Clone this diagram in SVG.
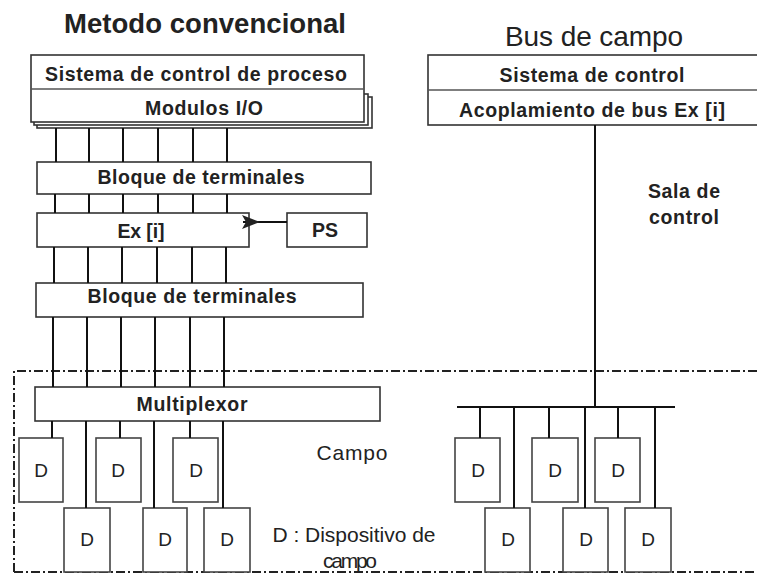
<svg xmlns="http://www.w3.org/2000/svg" width="757" height="575" viewBox="0 0 757 575">
<defs>
<marker id="ah" markerWidth="18" markerHeight="14" refX="17" refY="7" orient="auto" markerUnits="userSpaceOnUse" viewBox="0 0 18 14">
<path d="M0,7 L18,0 L14,7 L18,14 Z" fill="#222"/>
</marker>
<style>
.box{fill:#fff;stroke:#333;stroke-width:1.6}
.dbox{fill:#fff;stroke:#444;stroke-width:1.6}
.lbl{font-family:"Liberation Sans",Arial,sans-serif;font-weight:bold;font-size:19.5px;fill:#222;text-anchor:middle}
.dl{font-family:"Liberation Sans",Arial,sans-serif;font-size:19px;fill:#222;text-anchor:middle}
.txt{font-family:"Liberation Sans",Arial,sans-serif;font-size:21px;fill:#222;text-anchor:middle}
.ln{stroke:#111;stroke-width:2;fill:none}
.dash{stroke:#222;stroke-width:2;fill:none;stroke-dasharray:9 3 2 3}
</style>
</defs>
<rect width="757" height="575" fill="#fff"/>

<text x="205" y="33" font-family="Liberation Sans,Arial,sans-serif" font-weight="bold" font-size="27.5" fill="#222" text-anchor="middle" textLength="282">Metodo convencional</text>
<text x="594" y="46" font-family="Liberation Sans,Arial,sans-serif" font-size="28" fill="#222" text-anchor="middle" textLength="178">Bus de campo</text>

<g id="zona-campo">
<path class="dash" d="M14,572V371H757 M14,572H757"/>
</g>

<g id="sistema-control-proceso">
<rect class="box" x="37" y="97" width="335" height="31"/>
<rect class="box" x="34" y="94" width="334" height="31"/>
<rect class="box" x="31" y="55" width="333" height="67"/>
<line x1="31" y1="89" x2="364" y2="89" stroke="#555" stroke-width="1.6"/>
<text class="lbl" x="196" y="81" textLength="302">Sistema de control de proceso</text>
<text class="lbl" x="204" y="115" textLength="118">Modulos I/O</text>
</g>

<g id="bloque-terminales-1">
<rect class="box" x="37" y="162" width="334" height="32"/>
<text class="lbl" x="201" y="184" textLength="207">Bloque de terminales</text>
</g>

<g id="ex-i">
<rect class="box" x="37" y="213" width="212" height="34"/>
<text class="lbl" x="141" y="238" textLength="47">Ex [i]</text>
</g>

<g id="ps">
<rect class="box" x="287" y="213" width="80" height="34"/>
<text class="lbl" x="325" y="237" textLength="26">PS</text>
</g>

<g id="bloque-terminales-2">
<rect class="box" x="36" y="283" width="327" height="34"/>
<text class="lbl" x="192" y="303" textLength="209">Bloque de terminales</text>
</g>

<g id="multiplexor">
<rect class="box" x="35" y="387" width="345" height="34"/>
<text class="lbl" x="192" y="411" textLength="111">Multiplexor</text>
</g>

<g id="d-l1"><rect class="dbox" x="19" y="438" width="44" height="64"/><text class="dl" x="41" y="477">D</text></g>
<g id="d-l2"><rect class="dbox" x="96" y="438" width="45" height="64"/><text class="dl" x="118" y="477">D</text></g>
<g id="d-l3"><rect class="dbox" x="173" y="438" width="45" height="64"/><text class="dl" x="196" y="477">D</text></g>
<g id="d-l4"><rect class="dbox" x="64" y="508" width="46" height="64"/><text class="dl" x="87" y="546">D</text></g>
<g id="d-l5"><rect class="dbox" x="143" y="508" width="44" height="64"/><text class="dl" x="165" y="546">D</text></g>
<g id="d-l6"><rect class="dbox" x="204" y="508" width="46" height="64"/><text class="dl" x="227" y="546">D</text></g>

<g id="sistema-control">
<rect class="box" x="428" y="55" width="340" height="70"/>
<line x1="428" y1="90" x2="757" y2="90" stroke="#555" stroke-width="1.6"/>
<text class="lbl" x="592" y="82" textLength="185">Sistema de control</text>
<text class="lbl" x="592" y="117" textLength="266">Acoplamiento de bus Ex [i]</text>
</g>

<g id="d-r1"><rect class="dbox" x="455" y="438" width="45" height="64"/><text class="dl" x="478" y="477">D</text></g>
<g id="d-r2"><rect class="dbox" x="532" y="438" width="46" height="64"/><text class="dl" x="555" y="477">D</text></g>
<g id="d-r3"><rect class="dbox" x="595" y="438" width="45" height="64"/><text class="dl" x="618" y="477">D</text></g>
<g id="d-r4"><rect class="dbox" x="485" y="508" width="45" height="64"/><text class="dl" x="508" y="546">D</text></g>
<g id="d-r5"><rect class="dbox" x="563" y="508" width="45" height="64"/><text class="dl" x="586" y="546">D</text></g>
<g id="d-r6"><rect class="dbox" x="625" y="508" width="46" height="64"/><text class="dl" x="648" y="546">D</text></g>

<g id="connectors">
<path class="ln" d="M56,128V162 M89,128V162 M123,128V162 M158,128V162 M193,128V162 M227,128V162"/>
<path class="ln" d="M55,194V213 M89,194V213 M123,194V213 M158,194V213 M193,194V213 M227,194V213"/>
<path class="ln" d="M54,247V283 M88,247V283 M122,247V283 M157,247V283 M192,247V283 M226,247V283"/>
<path class="ln" d="M53,317V387 M87,317V387 M121,317V387 M155,317V387 M190,317V387 M224,317V387"/>
<path class="ln" d="M52,421V438 M86,421V508 M120,421V438 M154,421V508 M190,421V438 M223,421V508"/>
<line class="ln" x1="287" y1="222" x2="243" y2="222" marker-end="url(#ah)"/>
<path class="ln" d="M595,125V407 M457,407H675"/>
<path class="ln" d="M480,407V438 M514,407V508 M549,407V438 M585,407V508 M618,407V438 M655,407V508"/>
</g>

<text class="lbl" x="684" y="198" textLength="72">Sala de</text>
<text class="lbl" x="684" y="224" textLength="70">control</text>
<text class="txt" x="352" y="460" textLength="71">Campo</text>
<text class="txt" x="354" y="542" textLength="163">D : Dispositivo de</text>
<text class="txt" x="350" y="568" textLength="54">campo</text>
</svg>
